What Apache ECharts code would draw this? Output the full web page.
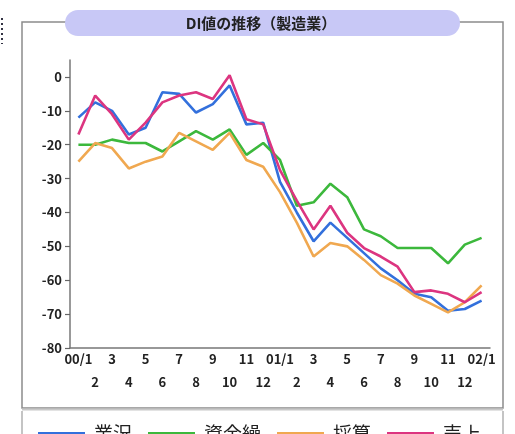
<!DOCTYPE html>
<html>
<head>
<meta charset="utf-8">
<script src="https://cdn.jsdelivr.net/npm/echarts@6/dist/echarts.min.js"></script>
<style>
  html, body { margin: 0; padding: 0; background: #fff; }
  #chart { width: 515px; height: 434px; }
</style>
</head>
<body>
<div id="chart"></div>
<script>
// Months from 2000/1 to 2002/1
const months = ['00/1','2','3','4','5','6','7','8','9','10','11','12',
                '01/1','2','3','4','5','6','7','8','9','10','11','12','02/1'];
const yTicks = [0, -10, -20, -30, -40, -50, -60, -70, -80];

// DI values (manufacturing)
const gyokyo     = [-12, -7.5, -10, -17, -15, -4.5, -5, -10.5, -8, -2.5, -14, -13.5,
                    -31, -40, -48.5, -43, -47.5, -52, -56.5, -60, -64, -65, -69, -68.5, -66];
const shikinguri = [-20, -20, -18.5, -19.5, -19.5, -22, -19, -16, -18.5, -15.5, -23, -19.5,
                    -24.5, -38, -37, -31.5, -35.5, -45, -47, -50.5, -50.5, -50.5, -55, -49.5, -47.5];
const saisan     = [-25, -19.5, -21, -27, -25, -23.5, -16.5, -19, -21.5, -16.5, -24.5, -26.5,
                    -34, -43, -53, -49, -50, -54, -58.5, -61, -64.5, -67, -69.5, -66.5, -61.5];
const uriage     = [-17, -5.5, -11, -18.5, -13.5, -7.5, -5.5, -4.5, -6.5, 0.5, -12.5, -14,
                    -27.5, -36.5, -45, -38, -46, -50.5, -53, -56, -63.5, -63, -64, -66.5, -63.5];

const seriesNames = ['業況', '資金繰', '採算', '売上'];
const seriesData = [gyokyo, shikinguri, saisan, uriage];
const seriesColors = ['#3370dc', '#3cb83c', '#f0a850', '#dc3580'];
const titleText = 'DI値の推移（製造業）';

const font = '"Noto Sans CJK JP", "Noto Sans", sans-serif';

const chart = echarts.init(document.getElementById('chart'), null, { renderer: 'canvas' });

chart.setOption({
  backgroundColor: '#ffffff',
  animation: false,
  grid: { left: 70, right: 25, top: 60, bottom: 86 },
  xAxis: {
    type: 'category',
    data: months,
    boundaryGap: true,
    axisLine: { onZero: false, lineStyle: { color: '#777', width: 1.5 } },
    axisTick: { inside: true, length: 4, alignWithLabel: true, interval: 0,
                lineStyle: { color: '#666', width: 1.2 } },
    axisLabel: {
      interval: 0,
      margin: 0,
      fontFamily: font,
      fontSize: 13,
      fontWeight: 'bold',
      color: '#222',
      lineHeight: 23,
      formatter: (v, i) => (i % 2 === 0 ? v : '\n' + v)
    },
    splitLine: { show: false }
  },
  yAxis: {
    type: 'value',
    min: -80,
    max: 5,
    axisLine: { show: true, lineStyle: { color: '#777', width: 1.5 } },
    axisTick: { show: true, length: 5, customValues: yTicks,
                lineStyle: { color: '#666', width: 1.2 } },
    axisLabel: {
      customValues: yTicks,
      margin: 8,
      fontFamily: font,
      fontSize: 13,
      fontWeight: 'bold',
      color: '#222'
    },
    splitLine: { show: false }
  },
  legend: {
    data: seriesNames,
    left: 33,
    top: 419,
    icon: 'rect',
    itemWidth: 47,
    itemHeight: 3,
    itemGap: 16,
    textStyle: { fontFamily: font, fontSize: 19, color: '#222', padding: [0, 0, 0, 4] }
  },
  series: seriesNames.map((name, k) => ({
    name: name,
    type: 'line',
    data: seriesData[k],
    showSymbol: false,
    symbol: 'none',
    color: seriesColors[k],
    lineStyle: { width: 2.6, color: seriesColors[k] }
  })),
  graphic: [
    // outer frame
    { type: 'rect', z: -1, shape: { x: 22, y: 22, width: 481, height: 386 },
      style: { fill: 'none', stroke: '#8c8c8c', lineWidth: 1.5 } },
    { type: 'line', z: -1, shape: { x1: 22, y1: 409.5, x2: 503, y2: 409.5 },
      style: { stroke: '#c8c8c8', lineWidth: 2 } },
    // legend box sides
    { type: 'line', z: -1, shape: { x1: 22, y1: 411, x2: 22, y2: 434 },
      style: { stroke: '#b0b0b0', lineWidth: 1.5 } },
    { type: 'line', z: -1, shape: { x1: 503, y1: 411, x2: 503, y2: 434 },
      style: { stroke: '#b0b0b0', lineWidth: 1.5 } },
    // title pill
    { type: 'rect', z: 5, shape: { x: 65, y: 10, width: 395, height: 26, r: 13 },
      style: { fill: '#c8c8f6' } },
    { type: 'text', z: 6, x: 261, y: 23,
      style: { text: titleText, fill: '#222', font: 'bold 15px ' + font,
               textAlign: 'center', textVerticalAlign: 'middle' } },
    // dotted marker at the left edge
    { type: 'line', z: 1, shape: { x1: 2, y1: 18, x2: 2, y2: 44 },
      style: { stroke: '#334', lineWidth: 2, lineDash: [2, 3] } }
  ]
});
</script>
</body>
</html>
